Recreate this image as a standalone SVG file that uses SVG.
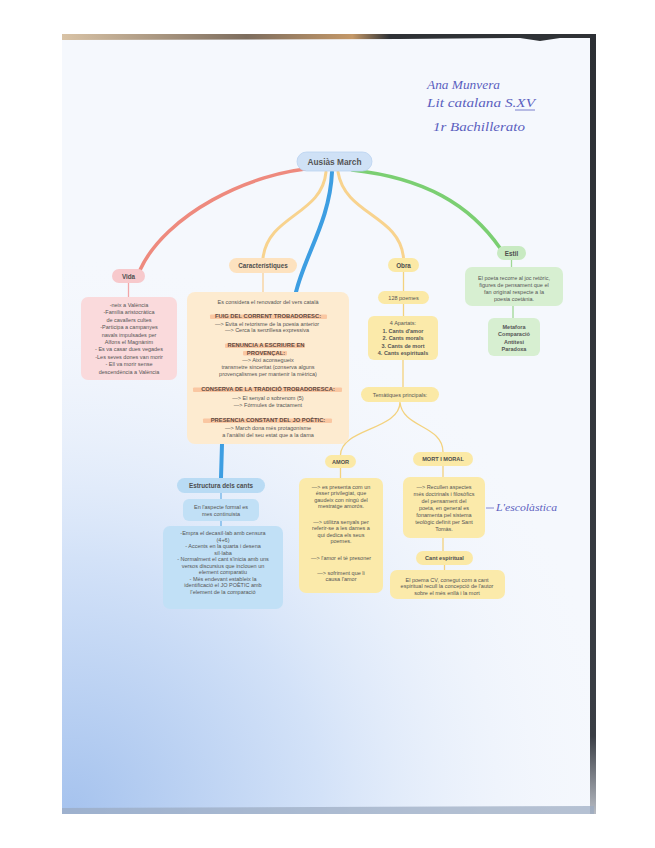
<svg xmlns="http://www.w3.org/2000/svg" width="655" height="848" viewBox="0 0 655 848">
<defs>
<radialGradient id="tint" cx="70" cy="810" r="560" gradientUnits="userSpaceOnUse">
<stop offset="0" stop-color="#a6c3ee"/>
<stop offset="0.45" stop-color="#d3e2f8"/>
<stop offset="1" stop-color="#f6f8fd" stop-opacity="0"/>
</radialGradient>
<linearGradient id="topstrip" x1="0" y1="0" x2="1" y2="0">
<stop offset="0" stop-color="#d9c3a6"/>
<stop offset="0.35" stop-color="#7d6d5e"/>
<stop offset="0.55" stop-color="#c49868"/>
<stop offset="0.62" stop-color="#2f3236"/>
<stop offset="1" stop-color="#2f3236"/>
</linearGradient>
<linearGradient id="rightstrip" x1="0" y1="0" x2="0" y2="1">
<stop offset="0" stop-color="#2c2f34"/>
<stop offset="0.9" stop-color="#3a3e45"/>
<stop offset="1" stop-color="#b8bcc4"/>
</linearGradient>
</defs>
<style>
text{font-family:"Liberation Sans",Arial,sans-serif;fill:#555;text-anchor:middle}
.b{font-size:5.5px}
.h{font-size:6.3px;font-weight:bold;fill:#4e4e4e}
.hs{font-size:5.6px;font-weight:bold;fill:#4e4e4e}
.bb{font-size:5.5px;font-weight:bold;fill:#555}
.hl{font-size:5.8px;font-weight:bold;fill:#5e4a42}
.mark{fill:#f8bb93;opacity:0.75}
.hand{font-family:"Liberation Serif","DejaVu Serif",serif;font-style:italic;fill:#5b5fbf;text-anchor:start}
.pk{fill:#f7c9cc}
.pkb{fill:#fadadc}
.or{fill:#fde2bf}
.orb{fill:#fdebd0}
.ye{fill:#fbe9a6}
.yeb{fill:#fbeaaa}
.gr{fill:#c8eac2}
.grb{fill:#d7efd1}
.bl{fill:#b9dbf4}
.blb{fill:#c1e0f6}
.thin{fill:none;stroke-width:1.3}
.thick{fill:none;stroke-linecap:round}
</style>
<rect width="655" height="848" fill="#ffffff"/>
<rect x="62" y="35" width="532" height="779" fill="#f5f8fd"/>
<rect x="62" y="35" width="532" height="779" fill="url(#tint)"/>
<polygon points="62,34 590,34 590,38 560,38 540,41 520,38 400,39 62,40" fill="url(#topstrip)"/>
<rect x="590" y="34" width="6" height="780" fill="url(#rightstrip)"/>
<polygon points="62,808 594,806 594,814 62,814" fill="#9aa9c0" opacity="0.7"/>
<text class="hand" x="427" y="89" font-size="11.5" textLength="73" lengthAdjust="spacingAndGlyphs">Ana Munvera</text>
<text class="hand" x="427" y="107" font-size="11.5" textLength="108" lengthAdjust="spacingAndGlyphs">Lit catalana S.XV</text>
<line x1="515" y1="110" x2="535" y2="110" stroke="#5b5fbf" stroke-width="0.8"/>
<text class="hand" x="433" y="131" font-size="11.5" textLength="92" lengthAdjust="spacingAndGlyphs">1r Bachillerato</text>
<g id="connectors">
<path class="thick" d="M316,168 C250,172 165,215 140,270" stroke="#ee8a7e" stroke-width="3.5"/>
<path class="thick" d="M326,172 C322,215 268,215 263,258" stroke="#f8d38e" stroke-width="3"/>
<path class="thick" d="M338,172 C345,215 400,215 403.5,258" stroke="#f8d38e" stroke-width="3"/>
<path class="thick" d="M352,170 C425,178 470,205 500,248" stroke="#7bcf72" stroke-width="3.5"/>
<path class="thick" d="M332,172 C330,220 305,255 296,292" stroke="#3d9ee2" stroke-width="4"/>
<path class="thick" d="M222,444 L221,478" stroke="#3d9ee2" stroke-width="4"/>
<path class="thin" d="M128.5,283 V297" stroke="#f2a5a8"/>
<path class="thin" d="M263,273 V292" stroke="#f8cf98"/>
<path class="thin" d="M403.5,272 V291 M403.5,304 V316 M403,360 V387" stroke="#f3d27e"/>
<path class="thin" d="M400,402 C400,430 341,428 340.5,455 M400,402 C402,428 443,425 443,452" stroke="#f3d27e"/>
<path class="thin" d="M340.5,468 V478 M443,466 V477 M443,538 V551 M444.5,565 V570" stroke="#f3d27e"/>
<path class="thin" d="M511.5,260 V267 M513,306 V318" stroke="#9fd896"/>
<path class="thin" d="M221,493 V499 M221,521 V526" stroke="#6db3e8"/>
</g>
<g id="ausias">
<rect x="297" y="152" width="75" height="19" rx="9.5" fill="#cfe1f6" stroke="#b9d2f0" stroke-width="0.8"/>
<text x="334.5" y="164.8" style="font-size:8.3px;font-weight:bold;fill:#555">Ausiàs March</text>
</g>
<g id="vida">
<rect class="pk" x="112" y="269" width="33" height="14" rx="7"/>
<text class="h" x="128.5" y="278.5">Vida</text>
</g>
<g id="vida-text">
<rect class="pkb" x="81" y="297" width="96" height="83" rx="7"/>
<text class="b" x="129" y="307">-neix a València</text>
<text class="b" x="129" y="314.4">-Família aristocràtica</text>
<text class="b" x="129" y="321.8">de cavallers cultes</text>
<text class="b" x="129" y="329.2">-Participa a campanyes</text>
<text class="b" x="129" y="336.6">navals impulsades per</text>
<text class="b" x="129" y="344">Alfons el Magnànim</text>
<text class="b" x="129" y="351.4">- Es va casar dues vegades</text>
<text class="b" x="129" y="358.8">-Les seves dones van morir</text>
<text class="b" x="129" y="366.2">- Ell va morir sense</text>
<text class="b" x="129" y="373.6">descendència a València</text>
</g>
<g id="caracteristiques">
<rect class="or" x="229" y="258" width="68" height="15" rx="7.5"/>
<text class="h" x="263" y="267.8">Característiques</text>
</g>
<g id="caract-text">
<rect class="orb" x="187" y="292" width="162" height="152" rx="8"/>
<text class="b" x="268" y="304">Es considera el renovador  del vers català</text>
<rect class="mark" x="210" y="314.5" width="117" height="4.5" rx="1"/>
<text class="hl" x="268" y="318">FUIG DEL CORRENT TROBADORESC:</text>
<text class="b" x="267" y="325.5">—&gt; Evita el retorisme de la poesia anterior</text>
<text class="b" x="267" y="332.3">—&gt; Cerca la senzillesa expressiva</text>
<rect class="mark" x="225" y="343.5" width="80" height="4.5" rx="1"/>
<rect class="mark" x="243" y="351" width="44" height="4.5" rx="1"/>
<text class="hl" x="266" y="347">RENUNCIA A ESCRIURE EN</text>
<text class="hl" x="266" y="354.5">PROVENÇAL:</text>
<text class="b" x="268" y="362">—&gt; Així aconsegueix</text>
<text class="b" x="268" y="369">transmetre sinceritat (conserva alguns</text>
<text class="b" x="268" y="376">provençalismes per mantenir la mètrica)</text>
<rect class="mark" x="193" y="387.5" width="149" height="4.5" rx="1"/>
<text class="hl" x="268" y="391">CONSERVA DE LA TRADICIÓ TROBADORESCA:</text>
<text class="b" x="268" y="400">—&gt; El senyal o sobrenom (5)</text>
<text class="b" x="268" y="406.5">—&gt; Fórmules de tractament</text>
<rect class="mark" x="203" y="418.5" width="129" height="4.5" rx="1"/>
<text class="hl" x="268" y="422">PRESENCIA CONSTANT DEL JO POÈTIC:</text>
<text class="b" x="268" y="429.5">—&gt; March dona més protagonisme</text>
<text class="b" x="268" y="437">a l'anàlisi del seu estat que a la dama</text>
</g>
<g id="obra">
<rect class="ye" x="388" y="258" width="31" height="14" rx="7"/>
<text class="h" x="403.5" y="267.5">Obra</text>
</g>
<g id="poemes">
<rect class="ye" x="378" y="291" width="51" height="13" rx="6.5"/>
<text class="b" x="403.5" y="299.5">128 poemes</text>
</g>
<g id="apartats">
<rect class="yeb" x="368" y="316" width="70" height="44" rx="6"/>
<text class="b" x="403" y="325">4 Apartats:</text>
<text class="bb" x="403" y="332.5">1. Cants d'amor</text>
<text class="bb" x="403" y="340">2. Cants morals</text>
<text class="bb" x="403" y="347.5">3. Cants de mort</text>
<text class="bb" x="403" y="355">4. Cants espirituals</text>
</g>
<g id="tematiques">
<rect class="ye" x="361" y="387" width="78" height="15" rx="7.5"/>
<text class="b" x="400" y="396.5">Temàtiques principals:</text>
</g>
<g id="amor">
<rect class="ye" x="325" y="455" width="31" height="13" rx="6.5"/>
<text class="hs" x="340.5" y="463.5">AMOR</text>
</g>
<g id="amor-text">
<rect class="yeb" x="299" y="478" width="84" height="115" rx="7"/>
<text class="b" x="341" y="489">—&gt; es presenta com un</text>
<text class="b" x="341" y="495.3">ésser privilegiat, que</text>
<text class="b" x="341" y="501.6">gaudeix con ningú del</text>
<text class="b" x="341" y="507.9">mestratge amorós.</text>
<text class="b" x="341" y="524">—&gt; utilitza senyals per</text>
<text class="b" x="341" y="530.3">referir-se a les dames a</text>
<text class="b" x="341" y="536.6">qui dedica els seus</text>
<text class="b" x="341" y="542.9">poemes.</text>
<text class="b" x="341" y="560">—&gt; l'amor el té presoner</text>
<text class="b" x="341" y="575">—&gt; sofriment que li</text>
<text class="b" x="341" y="581.3">causa l'amor</text>
</g>
<g id="mort">
<rect class="ye" x="413" y="452" width="60" height="14" rx="7"/>
<text class="hs" x="443" y="461.2">MORT I MORAL</text>
</g>
<g id="mort-text">
<rect class="yeb" x="403" y="477" width="82" height="61" rx="7"/>
<text class="b" x="444" y="489">—&gt; Recullen aspectes</text>
<text class="b" x="444" y="496">més doctrinals i filosòfics</text>
<text class="b" x="444" y="503">del pensament del</text>
<text class="b" x="444" y="510">poeta, en general es</text>
<text class="b" x="444" y="517">fonamenta pel sistema</text>
<text class="b" x="444" y="524">teològic definit per Sant</text>
<text class="b" x="444" y="531">Tomàs.</text>
</g>
<g id="escolastica">
<line x1="486" y1="508" x2="494" y2="508" stroke="#6a6dc4" stroke-width="0.8"/>
<text class="hand" x="496" y="511" font-size="10" textLength="61" lengthAdjust="spacingAndGlyphs">L'escolàstica</text>
</g>
<g id="cant-espiritual">
<rect class="ye" x="416" y="551" width="57" height="14" rx="7"/>
<text class="hs" x="444.5" y="560.2">Cant espiritual</text>
</g>
<g id="cant-text">
<rect class="yeb" x="390" y="570" width="115" height="29" rx="7"/>
<text class="b" x="447" y="581.5">El poema CV, conegut com a cant</text>
<text class="b" x="447" y="588">espiritual recull la concepció de l'autor</text>
<text class="b" x="447" y="594.5">sobre el més enllà i la mort</text>
</g>
<g id="estil">
<rect class="gr" x="497" y="246" width="29" height="14" rx="7"/>
<text class="h" x="511.5" y="255.5">Estil</text>
</g>
<g id="estil-text">
<rect class="grb" x="465" y="267" width="98" height="39" rx="7"/>
<text class="b" x="514" y="280">El poeta recorre al joc retòric,</text>
<text class="b" x="514" y="287">figures de pensament que el</text>
<text class="b" x="514" y="294">fan original respecte a la</text>
<text class="b" x="514" y="301">poesia coetània.</text>
</g>
<g id="recursos">
<rect class="grb" x="488" y="318" width="52" height="38" rx="6"/>
<text class="bb" x="514" y="328.5">Metafora</text>
<text class="bb" x="514" y="336">Comparació</text>
<text class="bb" x="514" y="343.5">Antítesi</text>
<text class="bb" x="514" y="351">Paradoxa</text>
</g>
<g id="estructura">
<rect class="bl" x="177" y="478" width="88" height="15" rx="7.5"/>
<text class="h" x="221" y="488">Estructura dels cants</text>
</g>
<g id="aspecte">
<rect class="blb" x="183" y="499" width="76" height="22" rx="6"/>
<text class="b" x="221" y="508.5">En l'aspecte formal es</text>
<text class="b" x="221" y="515.5">mes continuista</text>
</g>
<g id="estructura-text">
<rect class="blb" x="163" y="526" width="120" height="83" rx="7"/>
<text class="b" x="223" y="535">-Empra el decasíl·lab amb censura</text>
<text class="b" x="223" y="541.5">(4+6)</text>
<text class="b" x="223" y="548">- Accents en la quarta i desena</text>
<text class="b" x="223" y="554.5">síl·laba</text>
<text class="b" x="223" y="561">- Normalment el cant s'inicia amb uns</text>
<text class="b" x="223" y="567.5">versos discursius que inclouen un</text>
<text class="b" x="223" y="574">element comparatiu</text>
<text class="b" x="223" y="580.5">- Més endevant estableix la</text>
<text class="b" x="223" y="587">identificació el JO POÈTIC amb</text>
<text class="b" x="223" y="593.5">l'element de la comparació</text>
</g>
</svg>
